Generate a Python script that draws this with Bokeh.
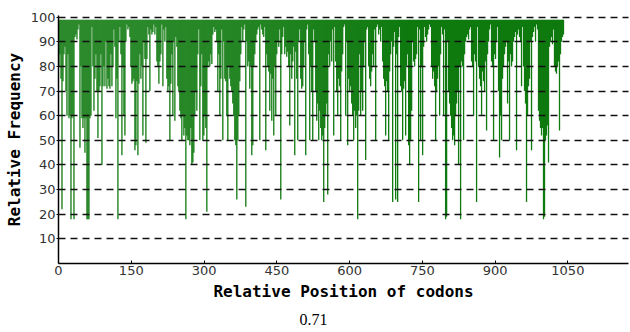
import numpy as np
from bokeh.plotting import figure
from bokeh.models import FixedTicker, Range1d, Title
from bokeh.embed import file_html
from bokeh.resources import INLINE

# ---- data ----
x_ticks = [0, 150, 300, 450, 600, 750, 900, 1050]
y_ticks = [10, 20, 30, 40, 50, 60, 70, 80, 90, 100]
first_codon = 1
last_codon = 1041
score_label = "0.71"

# relative frequency per codon window, in order along the sequence
freq_part1 = [80, 85, 75, 22, 74, 85, 88, 70, 60, 85,
              59, 60, 18, 59, 60, 18, 92, 93, 91, 95,
              97, 47, 80, 59, 55, 59, 45, 59, 18, 18,
              18, 59, 60, 96, 80, 62, 75, 85, 70, 51,
              70, 72, 85, 40, 72, 80, 72, 90, 71, 75,
              72, 71, 85, 72, 80, 95, 88, 59, 75, 18,
              90, 96, 85, 44, 80, 60, 52, 90, 97, 95,
              96, 92, 80, 73, 74]
freq_part2 = [75, 46, 48, 74, 44, 73, 85, 75, 80, 52,
              90, 83, 49, 83, 96, 93, 70, 95, 93, 94,
              97, 93, 96, 82, 80, 73, 82, 85, 97, 72,
              95, 90, 96, 75, 70, 72, 50, 73, 85, 60,
              90, 58, 92, 88, 72, 70, 62, 59, 50, 60,
              52, 55, 18, 52, 50, 50, 48, 55, 40, 41,
              45, 60, 70, 62, 85, 95, 50, 72, 85, 50,
              52, 60, 55, 21, 80]
freq_part3 = [82, 80, 85, 81, 93, 96, 94, 95, 90, 70,
              85, 60, 75, 95, 50, 90, 75, 74, 60, 50,
              80, 75, 72, 70, 65, 60, 50, 48, 26, 50,
              60, 74, 85, 96, 90, 95, 97, 23, 90, 80,
              82, 71, 80, 44, 48, 80, 85, 90, 93, 95,
              96, 50, 97, 95, 93, 92, 96, 46, 85, 80,
              78, 62, 77, 58, 75, 52, 80, 60, 85, 90,
              88, 95, 26, 85, 92]
freq_part4 = [96, 85, 88, 84, 86, 80, 56, 85, 75, 82,
              88, 44, 86, 75, 50, 90, 95, 75, 71, 72,
              80, 90, 44, 95, 97, 85, 50, 80, 70, 50,
              95, 90, 70, 58, 65, 50, 62, 55, 50, 52,
              25, 55, 60, 65, 28, 85, 80, 90, 82, 95,
              52, 96, 82, 70, 60, 75, 72, 50, 78, 85,
              96, 97, 60, 90, 48, 75, 70, 72, 65, 60,
              50, 62, 55, 60, 18]
freq_part5 = [62, 85, 60, 70, 62, 80, 90, 42, 95, 96,
              80, 75, 72, 78, 85, 80, 95, 50, 96, 97,
              93, 95, 90, 96, 82, 75, 72, 52, 74, 70,
              50, 78, 85, 90, 25, 88, 94, 26, 85, 25,
              92, 96, 72, 70, 50, 71, 74, 52, 80, 85,
              48, 40, 50, 62, 90, 82, 80, 83, 85, 96,
              25, 95, 50, 80, 44, 88, 96, 92, 90, 93,
              95, 97, 96, 80, 75]
freq_part6 = [78, 72, 50, 70, 75, 80, 60, 85, 96, 93,
              60, 95, 18, 19, 90, 70, 65, 60, 55, 50,
              52, 48, 60, 65, 70, 40, 80, 18, 82, 80,
              50, 85, 90, 92, 93, 91, 95, 96, 82, 80,
              60, 85, 82, 25, 96, 80, 75, 72, 60, 78,
              74, 70, 82, 54, 85, 90, 95, 97, 82, 80,
              50, 85, 83, 90, 96, 70, 43, 60, 50, 75,
              80, 85, 88, 90, 65]
freq_part7 = [82, 50, 85, 80, 82, 90, 92, 94, 46, 93,
              95, 92, 90, 72, 96, 80, 70, 65, 25, 60,
              72, 75, 90, 46, 92, 94, 96, 90, 97, 95,
              62, 58, 55, 52, 55, 18, 19, 50, 52, 56,
              41, 88, 90, 92, 89, 95, 80, 78, 77, 80,
              82, 54, 85, 90, 92, 93]

freq = (freq_part1 + freq_part2 + freq_part3 + freq_part4 +
        freq_part5 + freq_part6 + freq_part7)
positions = np.linspace(first_codon, last_codon, len(freq))
step = positions[1] - positions[0]

GREEN = "#0f7a0f"

p = figure(width=630, height=332,
           x_range=Range1d(0, 1175), y_range=Range1d(0, 100.7),
           output_backend="svg", toolbar_location=None, title=None,
           min_border_left=58, min_border_right=2,
           min_border_top=15, min_border_bottom=68)

p.vbar(x=positions, width=step * 1.3, top=99, bottom=freq,
       fill_color=GREEN, line_color=None)

# grid
p.xgrid.visible = False
p.ygrid.ticker = FixedTicker(ticks=y_ticks)
p.ygrid.grid_line_color = "#111111"
p.ygrid.grid_line_dash = "7 5"
p.ygrid.grid_line_width = 1.5
p.ygrid.level = "annotation"
p.outline_line_color = None
p.background_fill_color = "white"

# axes
p.xaxis.ticker = FixedTicker(ticks=x_ticks)
p.yaxis.ticker = FixedTicker(ticks=y_ticks)
for ax in (p.xaxis, p.yaxis):
    ax.axis_line_color = "black"
    ax.axis_line_width = 1.5
    ax.major_tick_line_color = "black"
    ax.minor_tick_line_color = None
    ax.major_label_text_font = "DejaVu Sans"
    ax.major_label_text_font_size = "13px"
    ax.major_label_text_color = "#333333"
    ax.axis_label_text_font = "DejaVu Sans Mono"
    ax.axis_label_text_font_size = "16px"
    ax.axis_label_text_font_style = "bold"
    ax.axis_label_text_color = "black"

p.xaxis.major_tick_in = 3
p.xaxis.major_tick_out = 0
p.xaxis.major_label_standoff = 2
p.xaxis.axis_label_standoff = 4
p.xaxis.axis_label = "Relative Position of codons"

p.yaxis.major_tick_in = 2
p.yaxis.major_tick_out = 2
p.yaxis.major_label_standoff = 1
p.yaxis.axis_label_standoff = 4
p.yaxis.axis_label = "Relative Frequency"

caption = Title(text=score_label, align="left", offset=241, standoff=16,
                text_font="Liberation Serif", text_font_size="16px",
                text_font_style="normal", text_color="black")
p.add_layout(caption, "below")

open("out.html", "w").write(file_html(p, INLINE))
